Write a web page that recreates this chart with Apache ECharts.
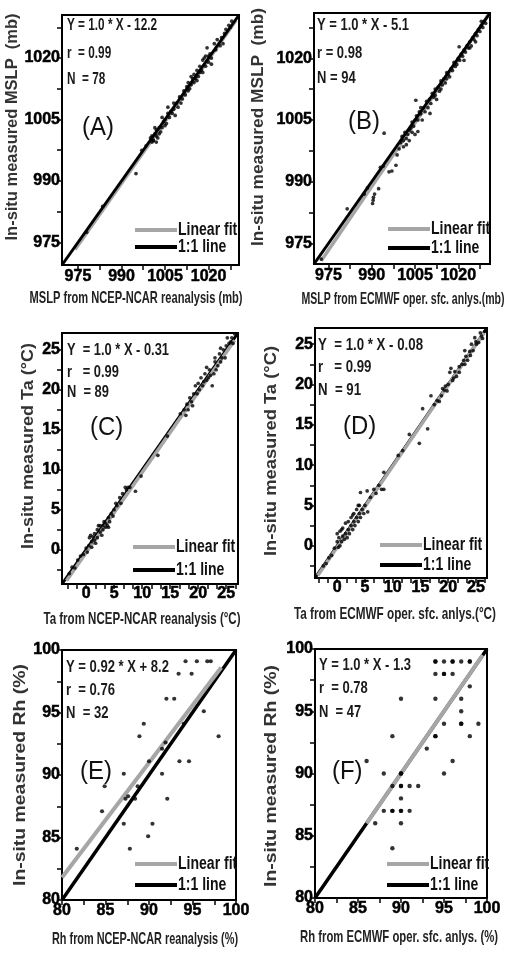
<!DOCTYPE html>
<html><head><meta charset="utf-8">
<script src="https://cdn.jsdelivr.net/npm/echarts@6/dist/echarts.min.js"></script>
<style>html,body{margin:0;padding:0;background:#fff}#c{width:505px;height:954px}</style>
</head><body><div id="c"></div>
<script>
// ---------- DATA ----------
const ptsA = [[978,977.5],[983.5,983.8],[995,991.8],[997,997.5],[998.5,998.6],
[1000,1000.5],[1000.5,1001],[1001,1000],[1001.5,1001.5],[1002,1001],[1002,1002.5],[1002.5,1000.5],[1003,1001.5],[1003,1003],[1001,999.8],[1000.5,999.5],[1002,999.5],
[1004,1003],[1004.5,1004.5],[1005,1003.5],[1005,1005],[1005.5,1004],[1006,1006.5],[1006.5,1005.5],[1007,1007],[1007.5,1006.5],[1006,1008],[1008,1007.5],[1008.5,1006],
[1009,1009],[1010,1010.5],[1010.5,1009],[1011,1010],[1011.5,1012],[1012,1011],[1012.5,1013],[1013,1012],[1013,1014],[1013.5,1012.5],[1014,1013.5],[1014.5,1015],[1015,1014],[1015,1016],
[1015.5,1015],[1016,1017],[1016.5,1015.5],[1017,1016.5],[1017,1018],[1017.5,1017],[1018,1016.5],[1018,1019.5],[1018.5,1020],[1019,1018],[1019.5,1022.5],[1020,1019],[1020,1020.5],[1020.5,1021],[1021,1018.5],[1021,1020],
[1022,1023.5],[1023,1024.5],[1024,1023],[1024.5,1025],[1025,1023.5],[1026,1027],[1027,1028],[1027.5,1027.5],[1028,1029],
[1003.5,1002],[1004,1005.5],[1001.5,1003],[1008,1009],[1009.5,1008],[1014,1015.5],[1016,1014.5],[1019,1020.5],[1022.5,1022],[1025.5,1026]];
const ptsB = [[972.5,971.2],[981.5,983.4],[987.4,987],[988.5,988.5],[990.5,985.5],[990.3,984.7],[990.6,986.2],[991,987],[992.4,988.3],[993,993.5],[994,993.8],[994.3,1001.8],[996,992.4],[997,992.6],[998.4,994],[998.8,996.5],[999.5,998],
[1000,999.5],[1000.5,1001],[1001,1000],[1001,998.5],[1001.5,1002],[1002,1000.5],[1002,999],[1002.5,1001.5],[1003,1002.5],[1003,1000],[1003.5,1003],[1004,1004.5],[1004,1002],[1004.5,1003.5],[1005,1005],[1005,1001.5],[1005.3,1009.8],[1005.5,1006],[1006,1002.2],[1006,1005],[1006.5,1007],[1007,1006.5],[1007.5,1005],[1007,1008],
[1008,1008],[1008.5,1007],[1009,1009.5],[1009.5,1008],[1010,1010],[1010.2,1006.6],[1010.5,1009],[1011,1011.5],[1011.5,1010.5],[1012,1011],[1012,1012.5],[1012.5,1010],[1013,1013],[1013.5,1012],[1014,1014.5],[1014,1012.5],[1014.5,1013.5],[1015,1015],[1015.5,1014],[1016,1016.5],[1016,1015],[1016.5,1016],[1017,1015.5],[1017.5,1017.5],[1018,1017],[1018.5,1019],[1019,1018],[1019.5,1018.5],[1020,1020],[1020.3,1022.8],[1020.5,1019.5],
[1021,1021],[1021.5,1020.5],[1022,1022],[1022,1019.5],[1022.5,1021.5],[1023,1023],[1023.5,1022.5],[1024,1024],[1024.5,1023],[1025,1025],[1025.5,1024.5],[1026,1026],[1026.5,1025.5],[1027,1027],[1027.5,1026.5],[1028,1028],[1028.5,1027.5],[1029,1029],[1029.5,1028.5],[1026,1024],[1024,1022.5],[1028,1029]];
const ptsC = [[-3,-3],[-2.5,-2.2],[-2,-2.3],[-1.5,-1.3],[-1,-0.8],[-0.5,-0.6],[0,0.2],[0.2,-0.3],[0.5,0.5],[0.6,1.5],[0.8,1.8],[1,1],[1,0.3],[1.2,1.6],[1.5,1.2],[1.5,2],[1.7,0.8],[2,2.5],[2,1.5],[2.2,3],[2.5,2.2],[2.5,3],[2.8,1.8],[3,3],[3,2.5],[3.2,3.5],[3.5,2.8],[3.5,3.3],[3.8,3],[4,4],[4,2.8],[4.2,3.5],[4.5,4.5],[4.8,4.2],[5,5],[5.3,5.8],[5.5,5.5],[6,6.5],[6.2,5.8],[6.5,7],[7,7.8],[7.2,7.5],[7.5,7.8],[7.8,7.8],
[8.8,7.3],[9.8,9.2],[12.8,11.8],[14.5,14.2],[16.8,17],
[17.5,17.5],[17.8,16.8],[18,18.2],[18.2,17.5],[18.5,19],[18.8,18.5],[19,18],[19.2,19.5],[19.5,20.5],[19.8,19.5],[20,20.8],[20.2,20],[20.5,21.5],[20.8,20.5],[21,21],[21.2,22],[21.5,21.2],[21.8,21.5],[22,22.5],[22.2,21.8],[22.5,20.5],[22.8,22],[23,23.5],[23.2,22.5],[23.5,23],[23.8,24.5],[24,23.5],[24.2,24],[24.5,25],[24.8,24],[25,25.5],[25.2,26.5],[25.5,25.8],[25.8,26],[26,26.5],[26.2,25.8],[26.5,27],[24,25.2],[23,24],[21.5,22.8]];
const ptsD = [[-2.5,-2.5],[-2,-2.2],[-1.5,-1.5],[-1,-1.2],[-0.5,-0.3],[0,0.5],[0,1.5],[0.2,-0.2],[0.3,1],[0.5,0],[0.5,1.8],[0.8,0.5],[1,1.2],[1,2.2],[1.3,0.8],[1.5,1.5],[1.8,1],[2,2],[2,3],[2.2,1.5],[2.5,2.5],[2.5,3.5],[2.8,2],[3,3],[3,4],[3.2,2.5],[3.5,3.5],[3.5,4.5],[3.8,3],[4,4],[4,5],[4.2,3.5],[4.2,6.6],[4.5,4.5],[4.8,4],[5,5],[5.4,6.8],[5.5,4.2],[6,6],[6.6,7],[7,6.5],[7.5,7.5],[8,7],[8.4,9.1],[8.4,7.0],[1.5,2.8],[2.8,3.8],[3.8,5],[0.8,2],
[11,11.2],[11.8,11.8],[13,13.8],[14.8,12.7],[15.4,17],[16.3,14.5],[16.9,18.6],[17.5,17.5],
[18,18],[18.4,17.9],[19,19.5],[19.3,19.3],[19.8,19.2],[20,20],[20.3,21.5],[20.5,22],[20.8,20.5],[21.2,21.6],[21.5,21],[22,21.5],[22.5,22.5],[23,22.5],[23.2,23.5],[23.5,23],[23.9,24.1],[24.2,25],[24.5,24.2],[25,25.3],[25.1,25],[25.5,25.2],[26,26],[26.2,25.7],[26.6,26.6],[24.8,25.8],[23,24.2],[22,22.2],[21,20.8],[19.5,19.8],[18.8,18.6],[25.8,26.4],[24,23.6],[22.8,23]];
const ptsE = [[81.7,84.1],[84.6,87.1],[84.9,89.1],[87.1,90.1],[87.1,86.1],[87.3,88.1],[87.8,84.1],[88.4,88.1],[88.7,89.1],[88.9,93.1],[89.4,94.1],[90.4,86.1],[89.9,85.1],[90.0,91.1],[91.5,92.1],[91.5,90.1],[92.0,96.1],[92.9,96.1],[92.1,88.1],[93.4,98.1],[93.5,91.1],[94.2,99.1],[94.6,91.1],[94.9,98.1],[95.5,99.1],[96.3,95.1],[96.7,99.1],[97.1,99.1],[98.0,93.1],[94.0,94.1],[87.6,88.3],[91.9,92.6]];
const ptsF = [[94,99],[95,99],[96,99],[97,99],[98,99],[94,98],[95,98],[96,98],[98,97],[90,96],[94,96],[97,96],[97,95],[95,94],[97,94],[99,94],[89,93],[94,93],[98,93],[93,92],[86,91],[96,91],[88,90],[90,90],[95,90],[89,89],[90,89],[91,89],[92,89],[90,88],[88,87],[89,87],[90,87],[91,87],[87,86],[90,86],[89,84],
[94,99],[95,98],[90,89],[89,87],[90,87],[97,94],[94,93],[90,90],[96,99],[98,99]];

const fitA = [[974,973.3],[1029.5,1029.2]];
const fitB = [[972.5,970.8],[1030.5,1030.6]];
const fitC = [[-3.5,-3.9],[26.5,26.2]];
const fitD = [[-3.5,-3.7],[26.5,26.4]];
const fitE = [[80,81.8],[98.3,98.6]];
const fitF = [[86,86],[99.5,99.5]];

const rangeA = [969.5,1030.5], rangeB = [970,1031], rangeC = [-4.3,27.1], rangeD = [-4,27], rangeRh = [80,100];
const labelsMSLP = [975,990,1005,1020];
const labelsTa = [0,5,10,15,20,25];
const labelsRh = [80,85,90,95,100];

const eqA = ['Y = 1.0 * X - 12.2','r  = 0.99','N  = 78'];
const eqB = ['Y = 1.0 * X - 5.1','r = 0.98','N = 94'];
const eqC = ['Y  = 1.0 * X - 0.31','r   = 0.99','N  = 89'];
const eqD = ['Y  = 1.0 * X - 0.08','r   = 0.99','N  = 91'];
const eqE = ['Y = 0.92 * X + 8.2','r  = 0.76','N  = 32'];
const eqF = ['Y = 1.0 * X - 1.3','r  = 0.78','N  = 47'];

// ---------- BUILD ----------
const SANS = "'Liberation Sans',Arial,sans-serif";
const mctx = document.createElement('canvas').getContext('2d');
function tw(text, font){ mctx.font = font; return mctx.measureText(text).width; }
function steps(a,b,s){const r=[];for(let v=a;v<=b+1e-9;v+=s)r.push(+v.toFixed(4));return r;}

// layout per panel: grid box, title positions and target text lengths
const panels = [
 {grid:[62,15,177,250], range:rangeA, labels:labelsMSLP, xt:steps(975,1027.5,7.5), yt:steps(975,1027.5,7.5), pts:ptsA, fit:fitA, fitTop:false,
  xName:'MSLP from NCEP-NCAR reanalysis (mb)', xnW:213, xnC:136, yName:'In-situ measured MSLP  (mb)', ynX:12, ynC:127, ynW:227, xNameY:33, lm:4,
  eq:eqA, eqW:90, eqX:5, eqY:[10,38,64], tag:'(A)', tagX:20, tagY:113, leg:[73,215,17], sym:3.7},
 {grid:[314,13,176,251], range:rangeB, labels:labelsMSLP, xt:steps(975,1027.5,7.5), yt:steps(975,1027.5,7.5), pts:ptsB, fit:fitB, fitTop:false,
  xName:'MSLP from ECMWF oper. sfc. anlys.(mb)', xnW:203, xnC:403, yName:'In-situ measured MSLP  (mb)', ynX:258, ynC:127, ynW:238, xNameY:35, lm:4,
  eq:eqB, eqW:92, eqX:3, eqY:[12,40,65], tag:'(B)', tagX:34, tagY:109, leg:[74,216,19], sym:3.7},
 {grid:[62,333,176,251], range:rangeC, labels:labelsTa, xt:steps(-10/3,80/3,5/3), yt:steps(-2.5,25,2.5), pts:ptsC, fit:fitC, fitTop:true,
  xName:'Ta from NCEP-NCAR reanalysis (°C)', xnW:197, xnC:142, yName:'In-situ measured Ta (°C)', ynX:28, ynC:446, ynW:206, xNameY:35, lm:2,
  eq:eqC, eqW:102, eqX:5, eqY:[17,39,59], tag:'(C)', tagX:28, tagY:95, leg:[71,214,23], sym:3.7},
 {grid:[315,328,172,250], range:rangeD, labels:labelsTa, xt:steps(-10/3,80/3,5/3), yt:steps(-2.5,25,2.5), pts:ptsD, fit:fitD, fitTop:true,
  xName:'Ta from ECMWF oper. sfc. anlys.(°C)', xnW:202, xnC:395, yName:'In-situ measured Ta (°C)', ynX:271, ynC:451, ynW:210, xNameY:36, lm:2,
  eq:eqD, eqW:105, eqX:3, eqY:[17,39,62], tag:'(D)', tagX:28, tagY:99, leg:[65,217,20], sym:3.7},
 {grid:[62,650,174,250], range:rangeRh, labels:labelsRh, xt:steps(80,100,2.5), yt:steps(80,100,2.5), pts:ptsE, fit:fitE, fitTop:true,
  xName:'Rh from NCEP-NCAR reanalysis (%)', xnW:186, xnC:145, yName:'In-situ measured Rh (%)', ynX:20, ynC:775, ynW:222, xNameY:39, lm:3,
  eq:eqE, eqW:103, eqX:4, eqY:[17,40,63], tag:'(E)', tagX:18, tagY:122, leg:[73,214,21], sym:4.2, thick:true},
 {grid:[315,649,172,249], range:rangeRh, labels:labelsRh, xt:steps(80,100,2.5), yt:steps(80,100,2.5), pts:ptsF, fit:fitF, fitTop:true,
  xName:'Rh from ECMWF oper. sfc. anlys. (%)', xnW:198, xnC:399, yName:'In-situ measured Rh (%)', ynX:271, ynC:776, ynW:222, xNameY:39, lm:3,
  eq:eqF, eqW:92, eqX:4, eqY:[16,39,63], tag:'(F)', tagX:17, tagY:123, leg:[72,215,21], sym:4.4, thick:true}
];

const grid=[], xAxis=[], yAxis=[], series=[], graphic=[];
const XN_FONT = "bold 17px "+SANS, YN_FONT = "bold 17px "+SANS, EQ_FONT = "bold 17px "+SANS, LEG_FONT = "bold 18px "+SANS;
panels.forEach((p,i)=>{
  const [l,t,w,h]=p.grid;
  grid.push({left:l,top:t,width:w,height:h,show:true,borderColor:'#000',borderWidth:2,backgroundColor:'transparent',
    containLabel:false, outerBoundsMode:'none'});
  const common = {type:'value', gridIndex:i, min:p.range[0], max:p.range[1], splitLine:{show:false},
    axisLine:{show:true,onZero:false,lineStyle:{color:'#000',width:2}}};
  const lab = {customValues:p.labels,color:'#000',fontFamily:SANS,fontWeight:'bold',fontSize:16,
    textBorderColor:'#000',textBorderWidth:0.5,
    hideOverlap:false,showMinLabel:true,showMaxLabel:true,formatter:v=>String(v)};
  xAxis.push(Object.assign({}, common, {
    axisTick:{show:true,inside:false,length:5,lineStyle:{color:'#111',width:1.6},customValues:p.xt},
    axisLabel:Object.assign({margin:p.lm}, lab)
  }));
  yAxis.push(Object.assign({}, common, {
    axisTick:{show:true,inside:false,length:5,lineStyle:{color:'#111',width:1.6},customValues:p.yt},
    axisLabel:Object.assign({margin:2}, lab)
  }));
  const lw = p.thick?3.5:3;
  series.push({type:'line', xAxisIndex:i, yAxisIndex:i, data:p.fit, showSymbol:false, symbol:'none', silent:true,
    lineStyle:{color:'#a6a6a6',width:p.thick?4:3.5}, z:p.fitTop?3:2});
  series.push({type:'line', xAxisIndex:i, yAxisIndex:i, data:[[p.range[0],p.range[0]],[p.range[1],p.range[1]]], showSymbol:false, symbol:'none', silent:true,
    lineStyle:{color:'#000',width:lw}, z:p.fitTop?2:3});
  series.push({type:'scatter', xAxisIndex:i, yAxisIndex:i, data:p.pts, symbolSize:p.sym, itemStyle:{color:'#000'}, z:5, silent:true});
  // axis titles (condensed to match the narrow typeface of the original)
  graphic.push({type:'text', x:p.xnC, y:t+h+p.xNameY, scaleX:p.xnW/tw(p.xName,XN_FONT), z:10,
    style:{text:p.xName, font:XN_FONT, fill:'#222', align:'center', verticalAlign:'middle'}});
  graphic.push({type:'text', x:p.ynX, y:p.ynC, rotation:Math.PI/2, scaleX:p.ynW/tw(p.yName,YN_FONT), z:10,
    style:{text:p.yName, font:YN_FONT, fill:'#333', align:'center', verticalAlign:'middle'}});
  // annotations
  const es = p.eqW/tw(p.eq[0],EQ_FONT);
  p.eq.forEach((s,k)=>graphic.push({type:'text', x:l+p.eqX, y:t+p.eqY[k], scaleX:es, z:10,
    style:{text:s, font:EQ_FONT, fill:'#1a1a1a', align:'left', verticalAlign:'middle'}}));
  graphic.push({type:'text', x:l+p.tagX, y:t+p.tagY, z:10, scaleX:0.92,
    style:{text:p.tag, font:"26px "+SANS, fill:'#111', align:'left', verticalAlign:'middle'}});
  const [lx,ly,lg]=p.leg;
  graphic.push({type:'line', z:10, shape:{x1:l+lx,y1:t+ly,x2:l+lx+42,y2:t+ly}, style:{stroke:'#a6a6a6',lineWidth:4}});
  graphic.push({type:'line', z:10, shape:{x1:l+lx,y1:t+ly+lg,x2:l+lx+42,y2:t+ly+lg}, style:{stroke:'#000',lineWidth:4}});
  graphic.push({type:'text', z:10, x:l+lx+43, y:t+ly, scaleX:0.78, style:{text:'Linear fit', font:LEG_FONT, fill:'#111', align:'left', verticalAlign:'middle'}});
  graphic.push({type:'text', z:10, x:l+lx+43, y:t+ly+lg, scaleX:0.78, style:{text:'1:1 line', font:LEG_FONT, fill:'#111', align:'left', verticalAlign:'middle'}});
});

const chart = echarts.init(document.getElementById('c'), null, {renderer:'canvas'});
chart.setOption({animation:false, backgroundColor:'#fff', grid, xAxis, yAxis, series, graphic});
</script></body></html>
